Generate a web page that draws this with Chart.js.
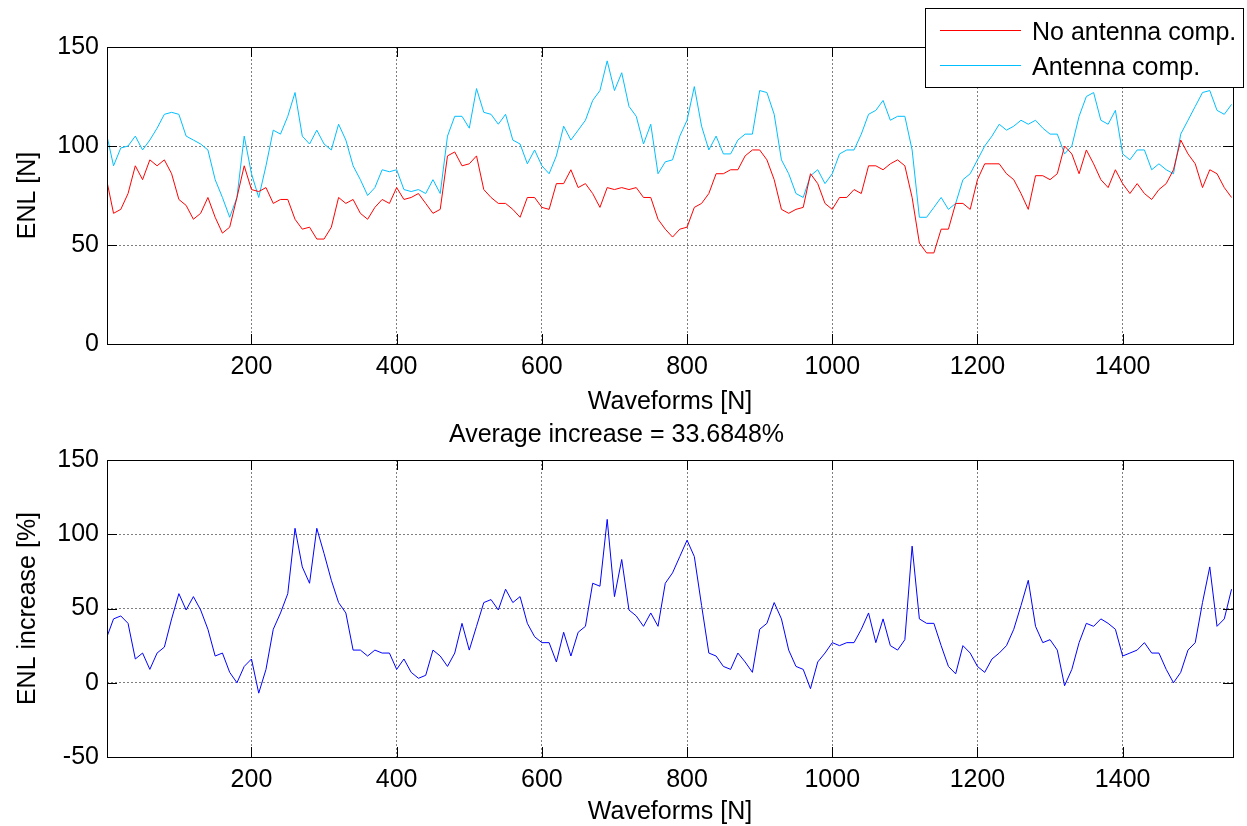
<!DOCTYPE html>
<html>
<head>
<meta charset="utf-8">
<script src="https://cdn.jsdelivr.net/npm/chart.js@4"></script>
<style>
  body { margin: 0; background: #fff; overflow: hidden; }
  canvas { position: absolute; left: 0; }
  #enlChart { top: 0; }
  #increaseChart { top: 420px; }
</style>
</head>
<body>
<canvas id="enlChart" width="1247" height="420"></canvas>
<canvas id="increaseChart" width="1247" height="410"></canvas>
<script>
const sampleStep = 10;
const xTickValues = [200, 400, 600, 800, 1000, 1200, 1400];

const enlNoComp = [
    82, 66, 68, 76, 90, 83, 93, 90, 93, 86,
    73, 70, 63, 66, 74, 64, 56, 59, 74, 90,
    78, 77, 79, 71, 73, 73, 63, 58, 59, 53,
    53, 59, 74, 71, 73, 66, 63, 69, 73, 71,
    79, 73, 74, 76, 71, 66, 68, 95, 97, 90,
    91, 95, 78, 74, 71, 71, 68, 64, 74, 74,
    69, 68, 81, 81, 88, 79, 81, 76, 69, 79,
    78, 79, 78, 79, 74, 74, 63, 58, 54, 58,
    59, 69, 71, 76, 86, 86, 88, 88, 95, 98,
    98, 93, 83, 68, 66, 68, 69, 86, 81, 71,
    68, 74, 74, 78, 76, 90, 90, 88, 91, 93,
    90, 74, 51, 46, 46, 58, 58, 71, 71, 68,
    83, 91, 91, 91, 86, 83, 76, 68, 85, 85,
    83, 86, 100, 96, 86, 98, 91, 83, 79, 88,
    81, 76, 81, 76, 73, 78, 81, 88, 103, 96,
    91, 79, 88, 86, 79, 74
];

const enlAntComp = [
    105, 90, 99, 100, 105, 98, 103, 109, 116, 117,
    116, 105, 103, 101, 98, 83, 74, 64, 74, 105,
    86, 74, 90, 108, 106, 115, 127, 105, 101, 108,
    101, 98, 111, 103, 90, 83, 75, 79, 88, 87,
    88, 78, 77, 78, 76, 83, 76, 105, 115, 115,
    109, 129, 117, 116, 111, 116, 103, 101, 91, 98,
    90, 86, 95, 110, 103, 108, 113, 123, 128, 143,
    128, 137, 120, 115, 101, 111, 86, 92, 93, 105,
    113, 130, 110, 98, 105, 96, 96, 103, 106, 106,
    128, 127, 116, 93, 86, 76, 74, 85, 88, 81,
    86, 96, 98, 98, 106, 116, 118, 123, 113, 115,
    115, 98, 64, 64, 69, 74, 68, 71, 83, 86,
    93, 100, 105, 111, 108, 110, 113, 111, 113, 109,
    106, 106, 96, 100, 115, 125, 127, 113, 111, 118,
    96, 93, 98, 98, 88, 91, 88, 86, 106, 113,
    120, 127, 128, 118, 116, 121
];

const enlIncrease = [
    31, 43, 45, 40, 16, 20, 9, 20, 24, 43,
    60, 49, 58, 49, 36, 18, 20, 7, 0, 11,
    16, -7, 9, 36, 47, 60, 104, 78, 67, 104,
    87, 69, 54, 47, 22, 22, 18, 22, 20, 20,
    9, 16, 7, 3, 5, 22, 18, 11, 20, 40,
    22, 38, 54, 56, 49, 63, 54, 58, 40, 31,
    27, 27, 14, 34, 18, 34, 38, 67, 65, 110,
    58, 83, 49, 45, 38, 47, 38, 67, 74, 85,
    96, 85, 52, 20, 18, 11, 9, 20, 14, 7,
    36, 40, 54, 43, 22, 11, 9, -4, 14, 20,
    27, 25, 27, 27, 36, 47, 27, 43, 25, 22,
    29, 92, 43, 40, 40, 25, 11, 6, 25, 20,
    11, 7, 16, 20, 25, 36, 52, 69, 38, 27,
    29, 22, -2, 9, 27, 40, 38, 43, 40, 36,
    18, 20, 22, 27, 20, 20, 9, 0, 7, 22,
    27, 54, 78, 38, 43, 63
];

const fontFamily = "'Liberation Sans', Arial, sans-serif";
const tickFont = { family: fontFamily, size: 25 };

function toPoints(values) {
    return values.map((v, i) => ({ x: i === 0 ? 1 : i * sampleStep, y: v }));
}

// MATLAB style box with inward tick marks
const axesBox = {
    id: 'axesBox',
    afterDraw(chart) {
        const { ctx, chartArea: a, scales } = chart;
        const len = 10;
        ctx.save();
        ctx.strokeStyle = '#000';
        ctx.lineWidth = 1;
        ctx.setLineDash([]);
        ctx.strokeRect(Math.round(a.left) + 0.5, Math.round(a.top) + 0.5,
            Math.round(a.right - a.left), Math.round(a.bottom - a.top));
        ctx.beginPath();
        scales.x.ticks.forEach(t => {
            const px = Math.round(scales.x.getPixelForValue(t.value)) + 0.5;
            ctx.moveTo(px, a.bottom); ctx.lineTo(px, a.bottom - len);
            ctx.moveTo(px, a.top); ctx.lineTo(px, a.top + len);
        });
        scales.y.ticks.forEach(t => {
            const py = Math.round(scales.y.getPixelForValue(t.value)) + 0.5;
            ctx.moveTo(a.left, py); ctx.lineTo(a.left + len, py);
            ctx.moveTo(a.right, py); ctx.lineTo(a.right - len, py);
        });
        ctx.stroke();
        ctx.restore();
    }
};

const boxLegend = {
    id: 'boxLegend',
    afterDraw(chart) {
        const ctx = chart.ctx;
        const x0 = 925, y0 = 8, w = 319, h = 80;
        ctx.save();
        ctx.fillStyle = '#fff';
        ctx.fillRect(x0, y0, w, h);
        ctx.strokeStyle = '#000';
        ctx.lineWidth = 1;
        ctx.strokeRect(x0 + 0.5, y0 + 0.5, w - 1, h - 1);
        ctx.font = '25px ' + fontFamily;
        ctx.textBaseline = 'middle';
        ctx.fillStyle = '#000';
        chart.data.datasets.forEach((ds, i) => {
            const cy = 30 + i * 35;
            ctx.strokeStyle = ds.borderColor;
            ctx.beginPath();
            ctx.moveTo(940, cy + 0.5);
            ctx.lineTo(1021, cy + 0.5);
            ctx.stroke();
            ctx.fillText(ds.label, 1032, cy + 3);
        });
        ctx.restore();
    }
};

function axisOptions(yMin, yMax, yTitle, xHeight) {
    return {
        x: {
            type: 'linear',
            min: 1,
            max: 1552,
            afterBuildTicks: scale => { scale.ticks = xTickValues.map(v => ({ value: v })); },
            afterFit: scale => { scale.height = xHeight; },
            ticks: { font: tickFont, color: '#000', padding: 8, maxRotation: 0, callback: v => String(v) },
            grid: { color: 'rgba(0,0,0,0.5)', drawTicks: false },
            border: { display: false, dash: [2, 2] },
            title: { display: true, text: 'Waveforms [N]', font: tickFont, color: '#000', padding: { top: 0, bottom: 3 } }
        },
        y: {
            min: yMin,
            max: yMax,
            afterFit: scale => { scale.width = 107; },
            ticks: { stepSize: 50, font: tickFont, color: '#000', padding: 8, callback: v => String(v) },
            grid: { color: 'rgba(0,0,0,0.5)', drawTicks: false },
            border: { display: false, dash: [2, 2] },
            title: { display: true, text: yTitle, font: tickFont, color: '#000', padding: { top: 13, bottom: 0 } }
        }
    };
}

new Chart(document.getElementById('enlChart').getContext('2d'), {
    type: 'line',
    data: {
        datasets: [
            { label: 'No antenna comp.', data: toPoints(enlNoComp), borderColor: '#ff0000', borderWidth: 1, pointRadius: 0, tension: 0 },
            { label: 'Antenna comp.', data: toPoints(enlAntComp), borderColor: '#00bfff', borderWidth: 1, pointRadius: 0, tension: 0 }
        ]
    },
    options: {
        responsive: false,
        animation: false,
        layout: { padding: { top: 47, right: 14, left: 0, bottom: 0 } },
        scales: axisOptions(0, 150, 'ENL [N]', 76),
        plugins: { legend: { display: false }, tooltip: { enabled: false } }
    },
    plugins: [axesBox, boxLegend]
});

new Chart(document.getElementById('increaseChart').getContext('2d'), {
    type: 'line',
    data: {
        datasets: [
            { label: 'ENL increase', data: toPoints(enlIncrease), borderColor: '#0000ff', borderWidth: 1, pointRadius: 0, tension: 0 }
        ]
    },
    options: {
        responsive: false,
        animation: false,
        layout: { padding: { top: 0, right: 14, left: 0, bottom: 0 } },
        scales: axisOptions(-50, 150, 'ENL increase [%]', 73),
        plugins: {
            legend: { display: false },
            tooltip: { enabled: false },
            title: {
                display: true,
                text: 'Average increase = 33.6848%',
                font: { family: fontFamily, size: 25, weight: 'normal' },
                color: '#000',
                padding: { top: 0, bottom: 10 }
            }
        }
    },
    plugins: [axesBox]
});
</script>
</body>
</html>
